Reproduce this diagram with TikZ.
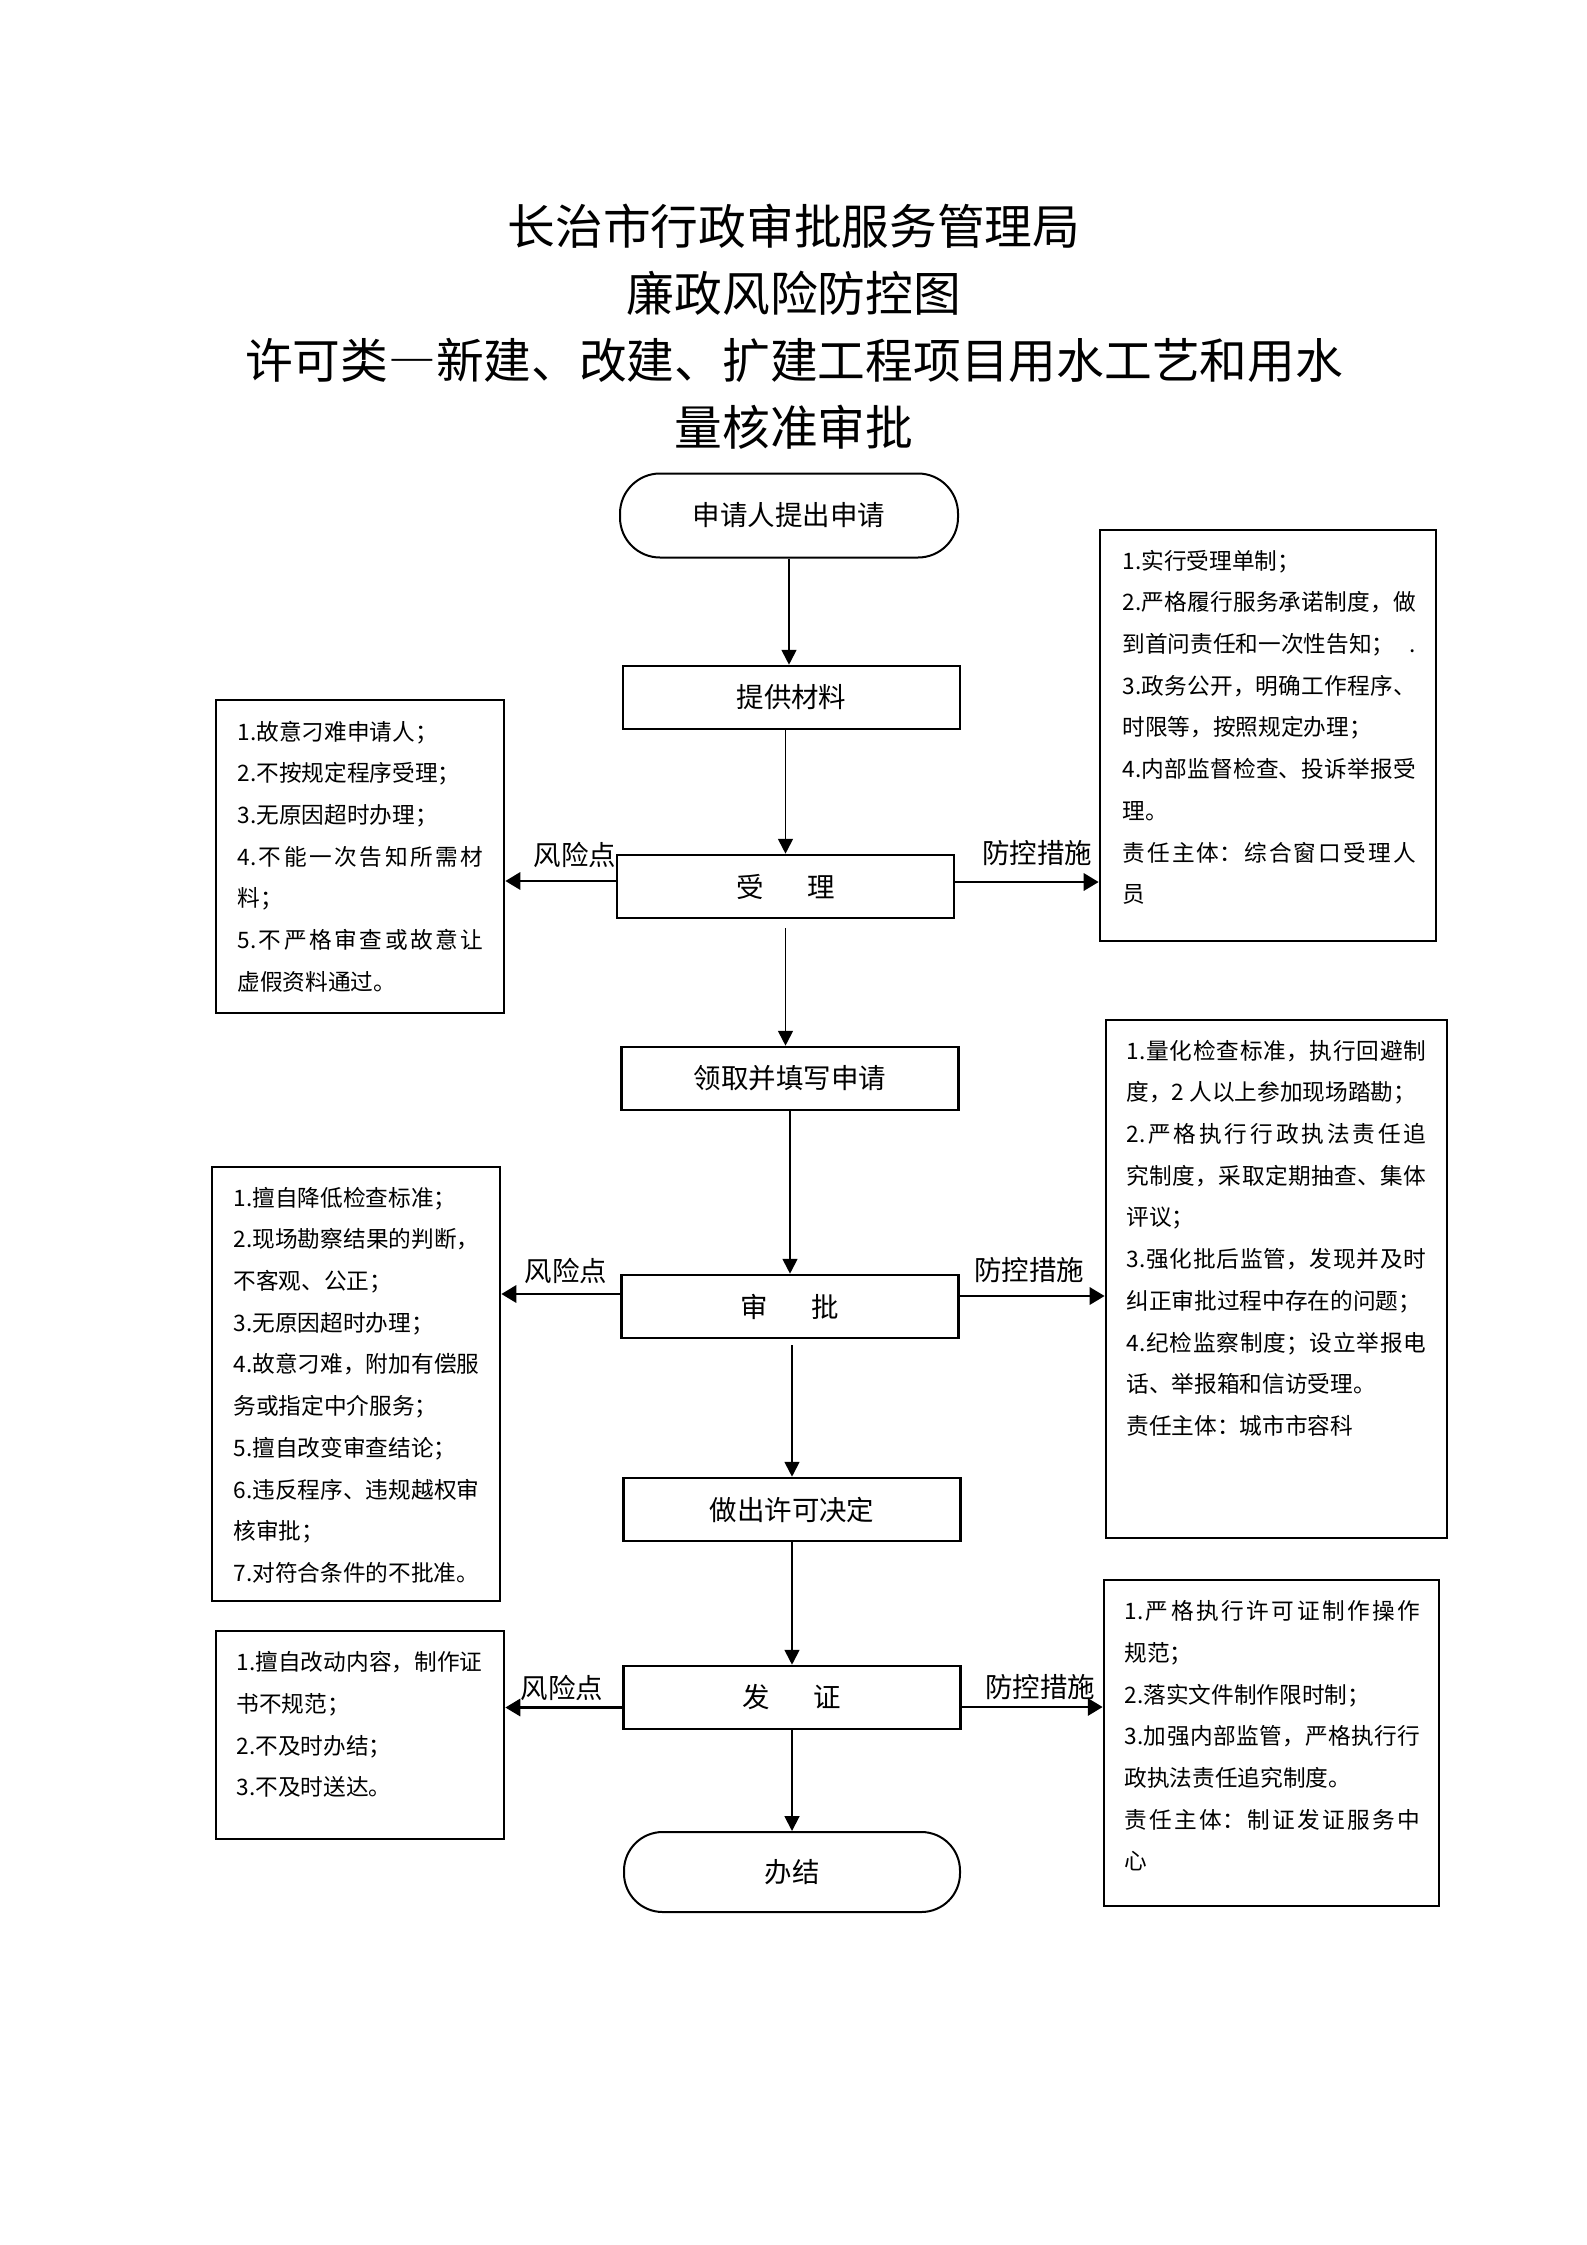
\documentclass[tikz,border=0pt]{standalone}
\usepackage{fontspec}
\setmainfont{Noto Sans CJK SC}
\usetikzlibrary{arrows.meta,calc}
\XeTeXlinebreaklocale "zh"
\XeTeXlinebreakskip=0pt plus 2pt minus 0.2pt
\setlength{\parindent}{0pt}
\tikzset{
  flow/.style={draw,line width=1pt,inner sep=0pt,minimum width=126.4pt,minimum height=23.6pt,font=\fontsize{10.3pt}{12pt}\selectfont},
  term/.style={draw,line width=0.75pt,inner sep=0pt,font=\fontsize{10.3pt}{12pt}\selectfont},
  panel/.style={draw,line width=1pt,inner sep=0pt,minimum width=108pt},
  ptext/.style={anchor=north west,inner sep=0pt,align=justify,font=\fontsize{8.5pt}{15.64pt}\selectfont},
  lbl/.style={inner sep=0pt,font=\fontsize{10.3pt}{12pt}\selectfont},
  down/.style={line width=0.7pt,-{Triangle[length=5.6pt,width=5.6pt]}},
  side/.style={line width=1.1pt,-{Triangle[length=5.6pt,width=6.4pt]}},
}
\begin{document}
\begin{tikzpicture}[x=0.375pt,y=-0.375pt]
\useasboundingbox (0,0) rectangle (1587,2245);
% title
\node[align=center,inner sep=0pt,font=\fontsize{17.9pt}{25.1pt}\selectfont] (title) at (794,327)
  {长治市行政审批服务管理局\\廉政风险防控图\\许可类{\addfontfeature{CharacterWidth=Full}—}新建、改建、扩建工程项目用水工艺和用水\\量核准审批};
% flow
\node[term,rounded corners=15pt,minimum width=126.75pt,minimum height=31.5pt] (start) at (789,515.5) {申请人提出申请};
\node[flow] (tigong) at (791.5,697.5) {提供材料};
\node[flow] (shouli) at (785.5,886.5) {受\hspace{16.4pt}理};
\node[flow] (lingqu) at (790,1078.5) {领取并填写申请};
\node[flow] (shenpi) at (790,1306.5) {审\hspace{16.4pt}批};
\node[flow] (zuochu) at (792,1509.5) {做出许可决定};
\node[flow] (fazheng) at (792,1697.5) {发\hspace{16.4pt}证};
\node[term,rounded corners=14.5pt,minimum width=126pt,minimum height=30pt] (finish) at (792,1872) {办结};
% panels
\node[panel,minimum height=117.4pt] (risk1) at (360,856.5) {};
\node[panel,minimum width=126pt,minimum height=154.1pt] (meas1) at (1268,735.5) {};
\node[panel,minimum height=162.75pt] (risk2) at (356,1384) {};
\node[panel,minimum width=127.9pt,minimum height=194.25pt] (meas2) at (1276.5,1279) {};
\node[panel,minimum height=78pt] (risk3) at (360,1735) {};
\node[panel,minimum width=125.6pt,minimum height=122.25pt] (meas3) at (1271.5,1743) {};
% panel texts
\node[ptext,text width=92.25pt] (risk1t) at (237,710.4) {\strut 1.故意刁难申请人；\\
2.不按规定程序受理；\\
3.无原因超时办理；\\
4.不能一次告知所需材\linebreak
料；\\
5.不严格审查或故意让\linebreak
虚假资料通过。};
\node[ptext,text width=110pt] (meas1t) at (1122,539.4) {\strut 1.实行受理单制；\\
2.严格履行服务承诺制度，做\linebreak
到首问责任和一次性告知；\hfill .\\
3.政务公开，明确工作程序、\linebreak
时限等，按照规定办理；\\
4.内部监督检查、投诉举报受\linebreak
理。\\
责任主体：综合窗口受理人\linebreak
员};
\node[ptext,text width=92.25pt] (risk2t) at (233,1176.4) {\strut 1.擅自降低检查标准；\\
2.现场勘察结果的判断，\linebreak
不客观、公正；\\
3.无原因超时办理；\\
4.故意刁难，附加有偿服\linebreak
务或指定中介服务；\\
5.擅自改变审查结论；\\
6.违反程序、违规越权审\linebreak
核审批；\\
7.对符合条件的不批准。};
\node[ptext,text width=112.5pt] (meas2t) at (1126,1029.4) {\strut 1.量化检查标准，执行回避制\linebreak
度，2 人以上参加现场踏勘；\\
2.严格执行行政执法责任追\linebreak
究制度，采取定期抽查、集体\linebreak
评议；\\
3.强化批后监管，发现并及时\linebreak
纠正审批过程中存在的问题；\\
4.纪检监察制度；设立举报电\linebreak
话、举报箱和信访受理。\\
责任主体：城市市容科};
\node[ptext,text width=92.25pt] (risk3t) at (236,1641) {\strut 1.擅自改动内容，制作证\linebreak
书不规范；\\
2.不及时办结；\\
3.不及时送达。};
\node[ptext,text width=111pt] (meas3t) at (1124,1590) {\strut 1.严格执行许可证制作操作\linebreak
规范；\\
2.落实文件制作限时制；\\
3.加强内部监管，严格执行行\linebreak
政执法责任追究制度。\\
责任主体：制证发证服务中\linebreak
心};
% labels
\node[lbl] (r1lbl) at (575,855) {风险点};
\node[lbl] (m1lbl) at (1037,853) {防控措施};
\node[lbl] (r2lbl) at (566,1271) {风险点};
\node[lbl] (m2lbl) at (1029,1270) {防控措施};
\node[lbl] (r3lbl) at (562,1688) {风险点};
\node[lbl] (m3lbl) at (1040,1687) {防控措施};
% vertical arrows
\draw[down] (start.south) -- (start.south |- tigong.north);
\draw[down] (shouli.north |- tigong.south) -- (shouli.north);
\draw[down,shorten <=3.4pt] (shouli.south) -- (shouli.south |- lingqu.north);
\draw[down] (lingqu.south) -- (shenpi.north);
\draw[down,shorten <=2.2pt] (zuochu.north |- shenpi.south) -- (zuochu.north);
\draw[down] (zuochu.south) -- (fazheng.north);
\draw[down] (fazheng.south) -- (finish.north);
% side arrows
\coordinate (s1l) at ($(shouli.west)+(0,-5.5)$);
\coordinate (s1r) at ($(shouli.east)+(0,-4.5)$);
\coordinate (s2l) at ($(shenpi.west)+(0,-12.5)$);
\coordinate (s2r) at ($(shenpi.east)+(0,-10.5)$);
\coordinate (s3l) at ($(fazheng.west)+(0,10)$);
\coordinate (s3r) at ($(fazheng.east)+(0,9.5)$);
\draw[side] (s1l) -- (s1l -| risk1.east);
\draw[side] (s1r) -- (s1r -| meas1.west);
\draw[side] (s2l) -- (s2l -| risk2.east);
\draw[side] (s2r) -- (s2r -| meas2.west);
\draw[side] (s3l) -- (s3l -| risk3.east);
\draw[side] (s3r) -- (s3r -| meas3.west);
\end{tikzpicture}
\end{document}
